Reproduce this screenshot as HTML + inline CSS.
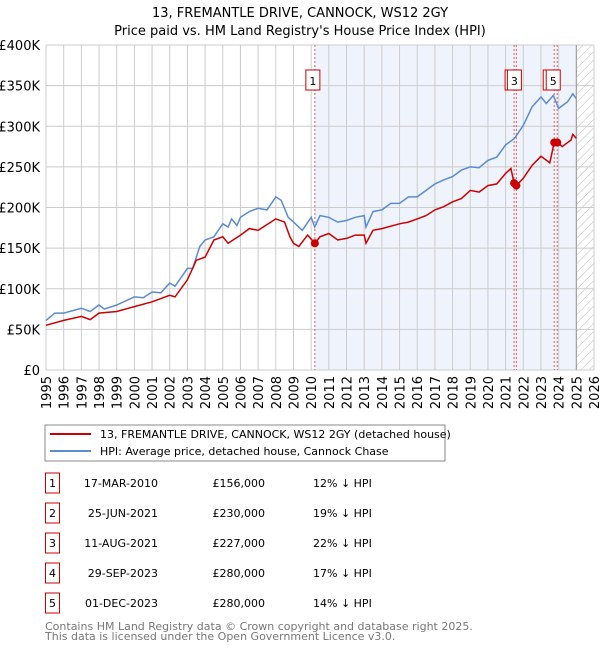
<!DOCTYPE html>
<html><head><meta charset="utf-8"><style>
body{margin:0;background:#fff;font-family:"Liberation Sans","DejaVu Sans",sans-serif;}
svg text{font-family:"DejaVu Sans","Liberation Sans",sans-serif;}
</style></head><body>
<svg id="c" width="600" height="650" viewBox="0 0 600 650">
<defs><pattern id="hatch" width="6" height="6" patternUnits="userSpaceOnUse" patternTransform="rotate(45)"><line x1="0" y1="0" x2="0" y2="6" stroke="#bbb" stroke-width="1"/></pattern></defs>
<text x="300" y="17" text-anchor="middle" font-size="13">13, FREMANTLE DRIVE, CANNOCK, WS12 2GY</text>
<text x="300" y="35" text-anchor="middle" font-size="13">Price paid vs. HM Land Registry's House Price Index (HPI)</text>
<g id="plot"></g>
<rect x="45" y="425" width="400" height="36" fill="#fff" stroke="#888"/>
<line x1="50" y1="434" x2="91" y2="434" stroke="#cc0000" stroke-width="2"/>
<text x="100" y="438" font-size="11">13, FREMANTLE DRIVE, CANNOCK, WS12 2GY (detached house)</text>
<line x1="50" y1="451" x2="91" y2="451" stroke="#5b8bd0" stroke-width="2"/>
<text x="100" y="455" font-size="11">HPI: Average price, detached house, Cannock Chase</text>
<g id="table"></g>
<text x="45" y="630" font-size="11" fill="#777">Contains HM Land Registry data © Crown copyright and database right 2025.</text>
<text x="45" y="640" font-size="11" fill="#777">This data is licensed under the Open Government Licence v3.0.</text>
</svg>
<script>
const hpiYears=[1995,1995.5,1996,1997,1997.5,1998,1998.3,1999,2000,2000.5,2001,2001.5,2002,2002.3,2003,2003.3,2003.5,2003.7,2004,2004.5,2005,2005.3,2005.5,2005.8,2006,2006.5,2007,2007.5,2008,2008.3,2008.7,2009,2009.5,2010,2010.2,2010.5,2011,2011.5,2012,2012.5,2013,2013.1,2013.5,2014,2014.5,2015,2015.5,2016,2016.5,2017,2017.5,2018,2018.5,2019,2019.5,2020,2020.5,2021,2021.5,2022,2022.5,2023,2023.3,2023.7,2024,2024.5,2024.8,2025];
const hpiValues=[61,70,70,76,72,80,75,80,90,89,96,95,107,103,125,125,139,152,160,164,180,176,186,178,188,195,199,197,213,209,188,182,172,188,176,190,188,182,184,188,190,176,195,197,205,205,213,213,221,229,234,238,246,250,249,258,262,277,285,301,324,336,328,338,322,330,340,334];
const propYears=[1995,1996,1997,1997.5,1998,1999,2000,2001,2002,2002.3,2003,2003.5,2004,2004.5,2005,2005.3,2006,2006.5,2007,2008,2008.5,2008.8,2009,2009.3,2009.8,2010.21,2010.5,2011,2011.5,2012,2012.5,2013,2013.1,2013.5,2014,2015,2015.5,2016,2016.5,2017,2017.5,2018,2018.5,2019,2019.5,2020,2020.5,2021,2021.3,2021.48,2021.61,2022,2022.5,2023,2023.5,2023.75,2023.92,2024.2,2024.7,2024.8,2025];
const propValues=[55,61,66,62,70,72,78,84,92,90,111,135,139,160,164,156,166,174,172,186,182,164,156,152,166,156,164,168,160,162,166,166,156,172,174,180,182,186,190,197,201,207,211,221,219,227,229,242,248,230,227,236,252,263,255,280,280,275,283,290,285];
const saleLabels=["1","2","3","4","5"];
const saleYears=[2010.21,2021.48,2021.61,2023.75,2023.92];
const saleValues=[156,230,227,280,280];
const saleDates=["17-MAR-2010","25-JUN-2021","11-AUG-2021","29-SEP-2023","01-DEC-2023"];
const salePrices=["£156,000","£230,000","£227,000","£280,000","£280,000"];
const saleDiffs=["12% ↓ HPI","19% ↓ HPI","22% ↓ HPI","17% ↓ HPI","14% ↓ HPI"];
const yTicks=[0,50,100,150,200,250,300,350,400];
const yTickLabels=["£0","£50K","£100K","£150K","£200K","£250K","£300K","£350K","£400K"];
const xTicks=[1995,1996,1997,1998,1999,2000,2001,2002,2003,2004,2005,2006,2007,2008,2009,2010,2011,2012,2013,2014,2015,2016,2017,2018,2019,2020,2021,2022,2023,2024,2025,2026];

const NS="http://www.w3.org/2000/svg";
const L=46,R=594,T=45,B=370;
const X=y=>L+(y-1995)/(2026-1995)*(R-L);
const Y=v=>B-v/400*(B-T);
function mk(tag,attrs,parent){const e=document.createElementNS(NS,tag);for(const k in attrs)e.setAttribute(k,attrs[k]);parent.appendChild(e);return e;}
const g=document.getElementById('plot');
let e=mk('rect',{x:X(2010.21),y:T,width:X(2025)-X(2010.21),height:B-T,fill:'#eef3fc'},g);


e=mk('rect',{x:X(2025),y:T,width:R-X(2025),height:B-T,fill:'url(#hatch)'},g);


yTicks.forEach((v,i)=>{
 let l=mk('line',{x1:L,x2:R,y1:Y(v),y2:Y(v),stroke:'#cccccc'},g);
 
 
 let t=mk('text',{x:L-6,y:Y(v)+5,'text-anchor':'end','font-size':'13'},g);t.textContent=yTickLabels[i];
 
 
});
xTicks.forEach(yr=>{
 let l=mk('line',{x1:X(yr),x2:X(yr),y1:T,y2:B,stroke:'#cccccc'},g);
 
 
 let t=mk('text',{x:0,y:0,'text-anchor':'end','font-size':'13',transform:`translate(${X(yr)+5},${B+6}) rotate(-90)`},g);t.textContent=yr;
 
 
});
e=mk('line',{x1:X(2025),x2:X(2025),y1:T,y2:B,stroke:'#999'},g);


saleYears.forEach(yr=>{
 let l=mk('line',{x1:X(yr),x2:X(yr),y1:T,y2:B,stroke:'#e06060','stroke-dasharray':'2,2'},g);
 
 
});
function path(xs,vs){return xs.map((x,i)=>(i?'L':'M')+X(x).toFixed(1)+','+Y(vs[i]).toFixed(1)).join('');}
e=mk('path',{d:path(hpiYears,hpiValues),fill:'none',stroke:'#5b8bd0','stroke-width':1.5},g);


e=mk('path',{d:path(propYears,propValues),fill:'none',stroke:'#cc0000','stroke-width':1.5},g);


saleYears.forEach((yr,i)=>{
 let c=mk('circle',{cx:X(yr),cy:Y(saleValues[i]),r:4,fill:'#cc0000'},g);
 
 
});
saleYears.forEach((yr,i)=>{
 let bx=X(yr)-(i>=3?4:2);
 let r=mk('rect',{x:bx-7,y:70,width:14,height:20,fill:'#fff',stroke:'#cc0000'},g);
 
 
 let t=mk('text',{x:bx,y:85,'text-anchor':'middle','font-size':'11'},g);t.textContent=saleLabels[i];
 
 
});
const tb=document.getElementById('table');
saleLabels.forEach((lab,i)=>{
 const y=483+i*30;
 let r=mk('rect',{x:45.5,y:y-10,width:14,height:20,fill:'#fff',stroke:'#cc0000'},tb);
 
 
 let t=mk('text',{x:52.5,y:y+4,'text-anchor':'middle','font-size':'11'},tb);t.textContent=lab;
 
 
 t=mk('text',{x:158,y:y+4,'text-anchor':'end','font-size':'11'},tb);t.textContent=saleDates[i];
 
 
 t=mk('text',{x:265,y:y+4,'text-anchor':'end','font-size':'11'},tb);t.textContent=salePrices[i];
 
 
 t=mk('text',{x:313,y:y+4,'font-size':'11'},tb);t.textContent=saleDiffs[i];
 
 
});
</script>
</body></html>
